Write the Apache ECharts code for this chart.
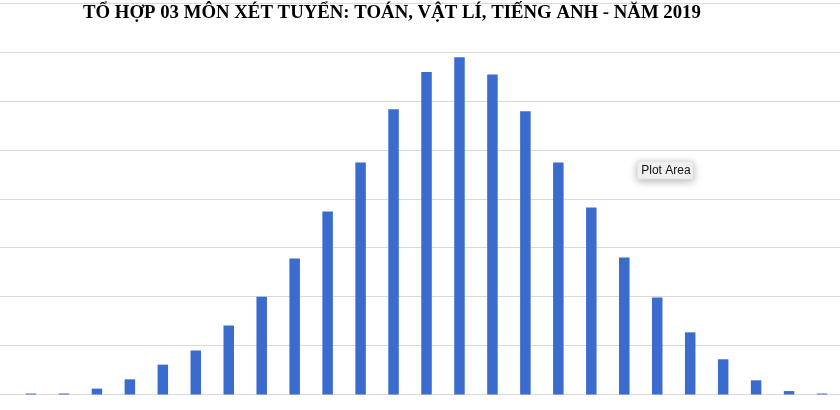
<!DOCTYPE html>
<html>
<head>
<meta charset="utf-8">
<script src="https://cdn.jsdelivr.net/npm/echarts@6/dist/echarts.min.js"></script>
<style>
  html, body { margin: 0; padding: 0; background: #fff; }
  #chart { width: 840px; height: 410px; }
</style>
</head>
<body>
<div id="chart"></div>
<script>
var chartTitle = "TỔ HỢP 03 MÔN XÉT TUYỂN: TOÁN, VẬT LÍ, TIẾNG ANH - NĂM 2019";

// score bins, left to right (labels are not shown in the picture)
var bins = [0, 1, 2, 3, 4, 5, 6, 7, 8, 9, 10, 11, 12, 13, 14, 15, 16, 17, 18, 19, 20, 21, 22, 23, 24];

// number of candidates per bin
var counts = [20, 20, 120, 310, 610, 900, 1410, 2000, 2780, 3740, 4740, 5830, 6590, 6890,
              6540, 5790, 4740, 3820, 2800, 1980, 1270, 720, 290, 70, 20];

var yTicks = { min: 0, max: 8000, step: 1000 };

var myChart = echarts.init(document.getElementById("chart"));

var option = {
    animation: false,
    title: {
        text: chartTitle,
        left: 78,
        top: -1,
        textStyle: {
            fontFamily: "Liberation Serif",
            fontWeight: "bold",
            fontSize: 18.8,
            color: "#000"
        }
    },
    grid: { left: 0, right: 0, top: 3, bottom: 15.5 },
    xAxis: {
        type: "value",
        min: -0.94,
        max: 24.545,
        show: false
    },
    yAxis: {
        type: "value",
        min: yTicks.min,
        max: yTicks.max,
        interval: yTicks.step,
        axisLabel: { show: false },
        axisLine: { show: false },
        axisTick: { show: false },
        splitLine: { lineStyle: { color: "#d9d9d9", width: 1 } }
    },
    series: [{
        type: "bar",
        barWidth: 10.5,
        itemStyle: { color: "#3b6bcc" },
        data: bins.map(function (b, i) { return [b, counts[i]]; })
    }],
    graphic: [{
        type: "group",
        left: 637,
        top: 161,
        children: [{
            type: "rect",
            shape: { x: 0, y: 0, width: 56, height: 18 },
            style: {
                fill: "#f2f2f2",
                stroke: "#d6d6d6",
                lineWidth: 0.5,
                shadowBlur: 8,
                shadowColor: "rgba(0,0,0,0.3)",
                shadowOffsetY: 2
            }
        }, {
            type: "text",
            x: 4,
            y: 3,
            style: {
                text: "Plot Area",
                fontFamily: "Liberation Sans",
                fontSize: 12,
                fill: "#111"
            }
        }]
    }]
};

myChart.setOption(option);
</script>
</body>
</html>
